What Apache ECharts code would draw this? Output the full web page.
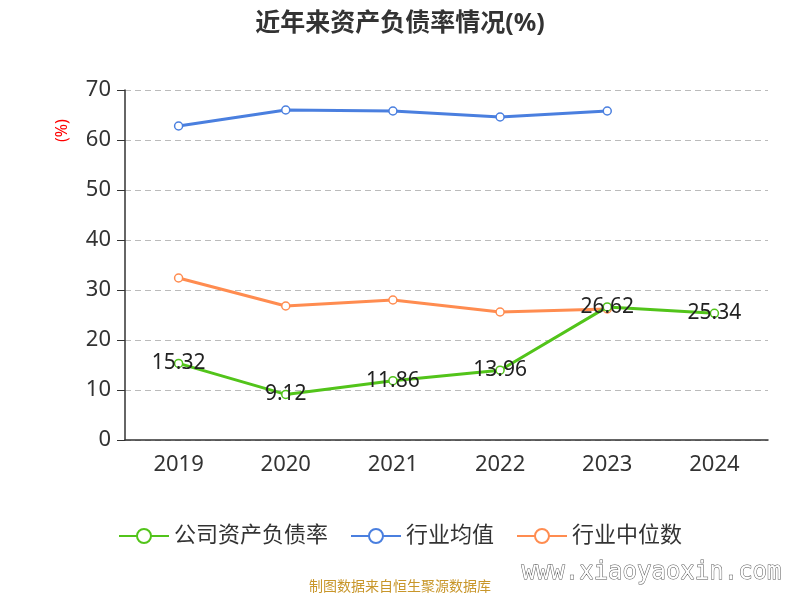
<!DOCTYPE html>
<html>
<head>
<meta charset="utf-8">
<script src="https://cdn.jsdelivr.net/npm/echarts@6/dist/echarts.min.js"></script>
<style>body{margin:0}#chart{width:800px;height:600px}</style>
</head>
<body>
<div id="chart"></div>
<script>
var years = ['2019', '2020', '2021', '2022', '2023', '2024'];
var companyRatio = [15.32, 9.12, 11.86, 13.96, 26.62, 25.34];
var industryAvg = [62.8, 66.0, 65.8, 64.6, 65.8, null];
var industryMedian = [32.4, 26.8, 28.0, 25.6, 26.2, null];

var chart = echarts.init(document.getElementById('chart'));
var font = 'Noto Sans, Noto Sans CJK SC';

function lineSeries(name, data, color, showLabel) {
    return {
        name: name,
        type: 'line',
        data: data,
        symbol: 'circle',
        symbolSize: 8,
        itemStyle: { color: '#fff', borderColor: color, borderWidth: 1.5 },
        lineStyle: { color: color, width: 3 },
        label: { show: showLabel, position: 'inside', color: '#222', fontSize: 21, fontFamily: font },
        z: showLabel ? 5 : 2
    };
}

var legendIcon = 'path://M0,10 L18,10 M32,10 L50,10 M25,3 A7,7 0 1,1 24.99,3 Z';

chart.setOption({
    textStyle: { fontFamily: font },
    title: {
        text: '近年来资产负债率情况(%)',
        left: 'center', top: 6,
        textStyle: { fontSize: 25, fontWeight: 'bold', color: '#333', fontFamily: font }
    },
    legend: {
        bottom: 48,
        itemWidth: 50, itemHeight: 20, itemGap: 22,
        textStyle: { fontSize: 22, color: '#333', fontFamily: font },
        data: [
            { name: '公司资产负债率', icon: legendIcon, itemStyle: { color: '#fff', borderColor: '#52c41a', borderWidth: 2 } },
            { name: '行业均值', icon: legendIcon, itemStyle: { color: '#fff', borderColor: '#4a7fdf', borderWidth: 2 } },
            { name: '行业中位数', icon: legendIcon, itemStyle: { color: '#fff', borderColor: '#ff8c50', borderWidth: 2 } }
        ]
    },
    grid: { left: 125, right: 32, top: 90, bottom: 160 },
    xAxis: {
        type: 'category',
        data: years,
        axisLine: { lineStyle: { color: '#333', width: 1.5 } },
        axisTick: { length: 8, lineStyle: { color: '#333' } },
        axisLabel: { fontSize: 22, color: '#333', margin: 14 }
    },
    yAxis: {
        type: 'value',
        min: 0, max: 70, interval: 10,
        axisLine: { show: true, lineStyle: { color: '#333', width: 1.5 } },
        axisTick: { show: true, length: 8, lineStyle: { color: '#333' } },
        axisLabel: { fontSize: 22, color: '#333', margin: 14 },
        splitLine: { lineStyle: { type: [6, 4], color: '#bbb' } }
    },
    series: [
        lineSeries('公司资产负债率', companyRatio, '#52c41a', true),
        lineSeries('行业均值', industryAvg, '#4a7fdf', false),
        lineSeries('行业中位数', industryMedian, '#ff8c50', false)
    ],
    graphic: [
        { type: 'text', x: 54, y: 142, rotation: Math.PI / 2, style: { text: '(%)', fill: 'red', fontSize: 16, fontFamily: font } },
        { type: 'text', left: 'center', top: 580, style: { text: '制图数据来自恒生聚源数据库', fill: '#c8962a', fontSize: 14, fontFamily: font } },
        { type: 'text', right: 18, top: 560, style: { text: 'www.xiaoyaoxin.com', fill: '#fff', stroke: '#555', lineWidth: 1, fontSize: 24, fontFamily: 'DejaVu Sans Mono' } }
    ]
});
</script>
</body>
</html>
